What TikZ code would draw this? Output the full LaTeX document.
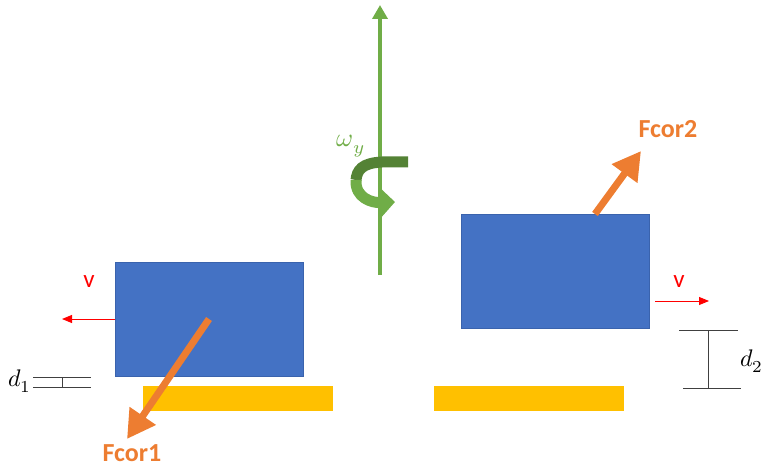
\documentclass[tikz,border=0pt]{standalone}
\usepackage{unicode-math}
\setmathfont{Latin Modern Math}
\newfontfamily\calibri{Carlito}
\usetikzlibrary{arrows.meta}
\definecolor{boxblue}{HTML}{4472C4}
\definecolor{boxedge}{HTML}{3A63AD}
\definecolor{railyellow}{HTML}{FFC000}
\definecolor{forceorange}{HTML}{ED7D31}
\definecolor{spingreen}{HTML}{70AD47}
\definecolor{spindark}{HTML}{548235}
\definecolor{gapgray}{HTML}{404040}
\newcommand{\bigmath}[2]{\scalebox{#1}{$#2$}}
\tikzset{
    block/.style={draw=boxedge, line width=0.8pt, fill=boxblue, minimum width=188pt, minimum height=114pt, inner sep=0pt},
    rail/.style={fill=railyellow, minimum width=190pt, minimum height=25pt, inner sep=0pt},
    force/.style={draw=forceorange, line width=7pt, -{Triangle[width=30pt,length=28pt]}},
    speed/.style={draw=red, line width=1pt, -{Triangle[width=8pt,length=10pt]}},
    gap/.style={draw=gapgray, line width=0.8pt},
    flabel/.style={text=forceorange, font=\calibri\bfseries\fontsize{26}{30}\selectfont},
    vlabel/.style={text=red, font=\calibri\fontsize{25}{29}\selectfont},
    mlabel/.style={text=black, inner sep=0pt}
}

\begin{document}
\begin{tikzpicture}[x=1pt, y=-1pt]
\useasboundingbox (0,0) rectangle (766,468);
% rails and blocks
\node[rail] (railL) at (238,398.5) {};
\node[rail] (railR) at (528.5,398.5) {};
\node[block] (blockL) at (209,319) {};
\node[block] (blockR) at (555.5,271.5) {};
% rotation axis
\coordinate (axisbot) at (380,275);
\coordinate (axistop) at (380,5);
\draw[spingreen, line width=4pt, -{Triangle[width=15pt,length=14pt]}] (axisbot) -- (axistop);
\draw[spindark, line width=11pt] (408,162) -- (382,162) .. controls (362,163) and (357,170) .. (356,180);
\draw[spingreen, line width=11pt, -{Triangle[width=30pt,length=15pt]}] (356,180) .. controls (355,198) and (372,203) .. (395,202);
\node[mlabel, text=spingreen] (omega) at (351,146) {\bigmath{2.6}{\omega_y}};
% Coriolis forces
\coordinate (f2start) at (595,214);
\coordinate (f1tip) at (127,439);
\coordinate (f2tip) at (641,151);
\draw[force] (blockL.center) -- (f1tip);
\draw[force] (f2start) -- (f2tip);
\node[flabel] (fcor1) at (132,453) {Fcor1};
\node[flabel] (fcor2) at (668,129) {Fcor2};
% velocities
\coordinate (vLtip) at (62,319);
\coordinate (vRstart) at (655,301);
\coordinate (vRtip) at (709,301);
\draw[speed] (blockL.west) -- (vLtip);
\draw[speed] (vRstart) -- (vRtip);
\node[vlabel] (vL) at (89,282) {v};
\node[vlabel] (vR) at (679,282) {v};
% gaps
\draw[gap] (33,377) -- (91,377);
\draw[gap] (33,387) -- (91,387);
\draw[gap] (62,377) -- (62,387);
\node[mlabel] (d1) at (20,381) {\bigmath{2.4}{d_1}};
\draw[gap] (679,330) -- (738,330);
\draw[gap] (683,388) -- (741,388);
\draw[gap] (708,330) -- (708,388);
\node[mlabel] (d2) at (752,361) {\bigmath{2.4}{d_2}};
\end{tikzpicture}
\end{document}
